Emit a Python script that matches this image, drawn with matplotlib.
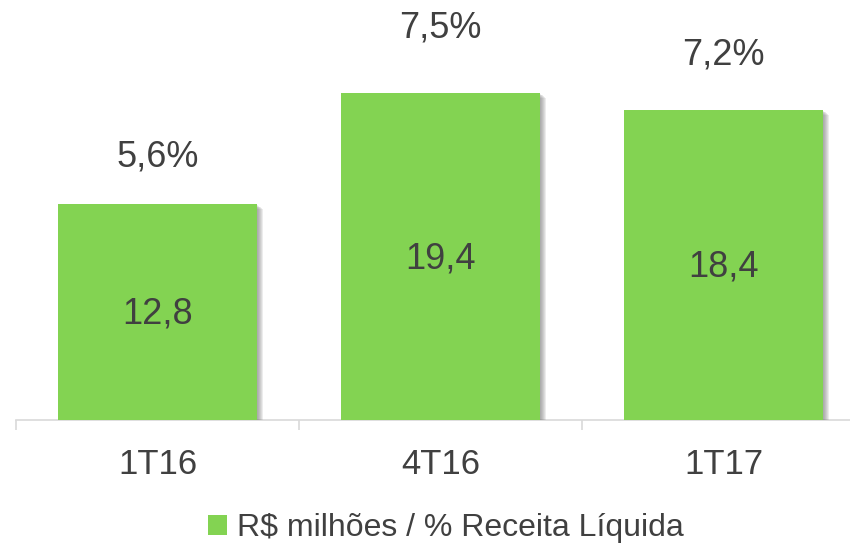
import matplotlib
matplotlib.use("Agg")
import matplotlib.pyplot as plt
import matplotlib.patheffects as pe
from matplotlib.patches import Patch

categories = ["1T16", "4T16", "1T17"]
values = [12.8, 19.4, 18.4]
value_labels = ["12,8", "19,4", "18,4"]
pct_labels = ["5,6%", "7,5%", "7,2%"]
legend_label = "R$ milhões / % Receita Líquida"

bar_color = "#83D352"
text_color = "#404040"
axis_color = "#D9D9D9"
pct_offsets_px = [47, 65, 55]

plt.rcParams["font.family"] = ["Liberation Sans", "DejaVu Sans"]

W, H = 850, 545
fig = plt.figure(figsize=(W / 100, H / 100), dpi=100)
ax = fig.add_axes([16 / W, 125 / H, 849 / W, 420 / H])

x = list(range(len(categories)))
bars = ax.bar(x, values, width=0.70, color=bar_color, edgecolor="none", zorder=3)
shadow = [pe.SimplePatchShadow(offset=(d * 0.72, -d * 0.55), shadow_rgbFace="#707070", alpha=0.13)
          for d in (1, 2, 3, 4, 5, 6)]
for b in bars:
    b.set_path_effects(shadow + [pe.Normal()])

ax.set_xlim(-0.5, 2.5)
ax.set_ylim(0, 24.93)

for xi, v, lab, pl, off in zip(x, values, value_labels, pct_labels, pct_offsets_px):
    ax.annotate(lab, (xi, v / 2), xytext=(0, -1.5), textcoords="offset points",
                ha="center", va="center", fontsize=26, color=text_color, zorder=4)
    ax.annotate(pl, (xi, v), xytext=(0, off * 0.72), textcoords="offset points",
                ha="center", va="center", fontsize=26, color=text_color)

for s in ["left", "right", "top"]:
    ax.spines[s].set_visible(False)
ax.spines["bottom"].set_color(axis_color)
ax.spines["bottom"].set_linewidth(1.2)
ax.set_yticks([])
ax.set_xticks(x)
ax.set_xticklabels(categories, fontsize=25, color=text_color)
ax.tick_params(axis="x", which="major", length=0, pad=20)
ax.set_xticks([-0.5, 0.5, 1.5, 2.5], minor=True)
ax.tick_params(axis="x", which="minor", length=7, width=1.2, color=axis_color, direction="out")

handle = Patch(facecolor=bar_color, edgecolor="none")
fig.legend([handle], [legend_label], loc="center", bbox_to_anchor=(446 / W, 1 - 528 / H),
           frameon=False, fontsize=23, handlelength=0.6, handleheight=0.6,
           handletextpad=0.3, labelcolor=text_color)

fig.savefig("out.png", dpi=100)
